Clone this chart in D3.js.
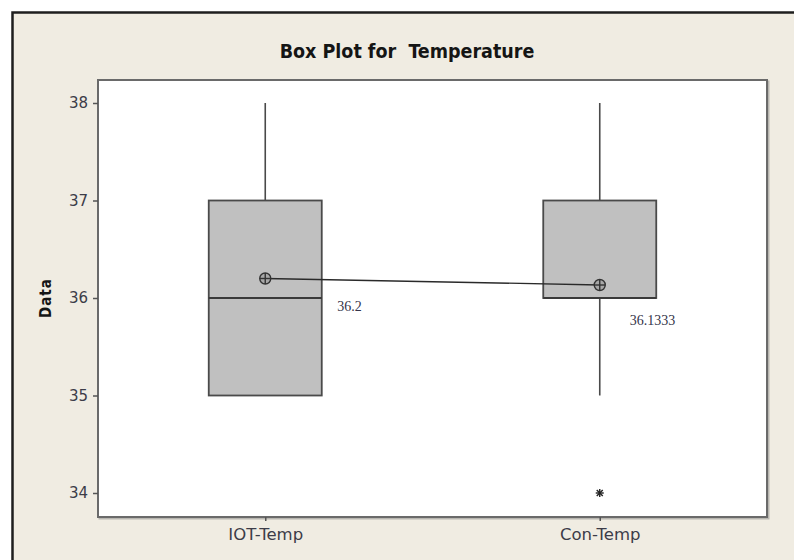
<!DOCTYPE html>
<html>
<head>
<meta charset="utf-8">
<script src="https://cdn.jsdelivr.net/npm/d3@7"></script>
<style>
  html, body { margin: 0; padding: 0; background: #ffffff; }
  svg { display: block; }
</style>
</head>
<body>
<svg id="chart" width="794" height="560"></svg>
<script>
// ---- data ----
const categories = ["IOT-Temp", "Con-Temp"];
const whiskerLow  = [35, 35];
const q1          = [35, 36];
const median      = [36, 36];
const q3          = [37, 37];
const whiskerHigh = [38, 38];
const means       = [36.2, 36.1333];
const meanLabels  = ["36.2", "36.1333"];
const outliers    = [[], [34]];
const yTicks      = [34, 35, 36, 37, 38];
const titleText   = "Box Plot for  Temperature";
const yAxisTitle  = "Data";

// ---- layout ----
const W = 794, H = 560;
const plot = { left: 98, top: 80, right: 767, bottom: 517 };
const boxW = 113;
const labelOffsets = [[72, 32], [30, 40]];

const svg = d3.select("#chart");

// outer frame
svg.append("rect")
  .attr("x", 12.5).attr("y", 12.5)
  .attr("width", W + 20).attr("height", H + 20)
  .attr("fill", "#f0ece2")
  .attr("stroke", "#1e1e1e").attr("stroke-width", 2.5);

// plot area shadow + box
svg.append("rect")
  .attr("x", plot.left + 1.5).attr("y", plot.top + 1.5)
  .attr("width", plot.right - plot.left).attr("height", plot.bottom - plot.top)
  .attr("fill", "none").attr("stroke", "#b8b6b0").attr("stroke-width", 2);
svg.append("rect")
  .attr("x", plot.left).attr("y", plot.top)
  .attr("width", plot.right - plot.left).attr("height", plot.bottom - plot.top)
  .attr("fill", "#ffffff").attr("stroke", "#6a6a6a").attr("stroke-width", 2);

const x = d3.scalePoint().domain(categories).range([plot.left, plot.right]).padding(0.5);
const y = d3.scaleLinear().domain([34, 38]).range([493, 103]);

// y axis
const yAxis = svg.append("g")
  .attr("transform", `translate(${plot.left},0)`)
  .call(d3.axisLeft(y).tickValues(yTicks).tickSize(5).tickPadding(5).tickFormat(d3.format("d")));
yAxis.select(".domain").remove();
yAxis.selectAll(".tick line").attr("stroke", "#555").attr("stroke-width", 1.5);
yAxis.selectAll(".tick text")
  .attr("fill", "#3c3c48")
  .style("font-family", "'DejaVu Sans', sans-serif")
  .style("font-size", "15px");

// x axis
const xAxis = svg.append("g")
  .attr("transform", `translate(0,${plot.bottom})`)
  .call(d3.axisBottom(x).tickSize(4).tickPadding(7));
xAxis.select(".domain").remove();
xAxis.selectAll(".tick line").attr("stroke", "#555").attr("stroke-width", 1.5);
xAxis.selectAll(".tick text")
  .attr("fill", "#3c3c48")
  .style("font-family", "'DejaVu Sans', sans-serif")
  .style("font-size", "16.5px");

// boxes
const data = categories.map((c, i) => ({
  c, lo: whiskerLow[i], q1: q1[i], med: median[i], q3: q3[i], hi: whiskerHigh[i],
  mean: means[i], label: meanLabels[i], out: outliers[i], i
}));

const g = svg.append("g");
const stroke = "#4a4a4a";

data.forEach(d => {
  const cx = x(d.c);
  if (d.hi > d.q3) {
    g.append("line").attr("x1", cx).attr("x2", cx)
      .attr("y1", y(d.q3)).attr("y2", y(d.hi))
      .attr("stroke", stroke).attr("stroke-width", 1.6);
  }
  if (d.lo < d.q1) {
    g.append("line").attr("x1", cx).attr("x2", cx)
      .attr("y1", y(d.q1)).attr("y2", y(d.lo))
      .attr("stroke", stroke).attr("stroke-width", 1.6);
  }
  g.append("rect")
    .attr("x", cx - boxW / 2).attr("y", y(d.q3))
    .attr("width", boxW).attr("height", y(d.q1) - y(d.q3))
    .attr("fill", "#c0c0c0").attr("stroke", stroke).attr("stroke-width", 1.8);
  g.append("line")
    .attr("x1", cx - boxW / 2).attr("x2", cx + boxW / 2)
    .attr("y1", y(d.med)).attr("y2", y(d.med))
    .attr("stroke", "#3a3a3a").attr("stroke-width", 2);
  d.out.forEach(v => {
    const oy = y(v), s = 4;
    const a = g.append("g").attr("stroke", "#222").attr("stroke-width", 1.4);
    a.append("line").attr("x1", cx - s).attr("x2", cx + s).attr("y1", oy).attr("y2", oy);
    a.append("line").attr("x1", cx).attr("x2", cx).attr("y1", oy - s).attr("y2", oy + s);
    a.append("line").attr("x1", cx - s * 0.75).attr("x2", cx + s * 0.75).attr("y1", oy - s * 0.75).attr("y2", oy + s * 0.75);
    a.append("line").attr("x1", cx - s * 0.75).attr("x2", cx + s * 0.75).attr("y1", oy + s * 0.75).attr("y2", oy - s * 0.75);
  });
});

// mean connect line
const line = d3.line().x(d => x(d.c)).y(d => y(d.mean));
g.append("path").datum(data).attr("d", line)
  .attr("fill", "none").attr("stroke", "#2a2a2a").attr("stroke-width", 1.3);

// mean symbols + labels
data.forEach(d => {
  const cx = x(d.c), cy = y(d.mean), r = 5.5;
  const m = g.append("g").attr("stroke", "#333").attr("stroke-width", 1.4);
  m.append("circle").attr("cx", cx).attr("cy", cy).attr("r", r).attr("fill", "#a8a8a8");
  m.append("line").attr("x1", cx - r).attr("x2", cx + r).attr("y1", cy).attr("y2", cy);
  m.append("line").attr("x1", cx).attr("x2", cx).attr("y1", cy - r).attr("y2", cy + r);
  g.append("text")
    .attr("x", cx + labelOffsets[d.i][0]).attr("y", cy + labelOffsets[d.i][1])
    .attr("fill", "#34344a")
    .style("font-family", "'Liberation Serif', serif")
    .style("font-size", "14px")
    .text(d.label);
});

// title
svg.append("text")
  .attr("x", 407).attr("y", 58)
  .attr("text-anchor", "middle")
  .attr("fill", "#151515")
  .style("font-family", "'DejaVu Sans Condensed', 'DejaVu Sans', sans-serif")
  .style("font-weight", "bold")
  .style("font-size", "19.5px")
  .style("white-space", "pre")
  .text(titleText);

// y axis title
svg.append("text")
  .attr("transform", "translate(51,298) rotate(-90)")
  .attr("text-anchor", "middle")
  .attr("fill", "#151515")
  .style("font-family", "'DejaVu Sans Condensed', 'DejaVu Sans', sans-serif")
  .style("font-weight", "bold")
  .style("font-size", "15px")
  .style("letter-spacing", "1px")
  .text(yAxisTitle);
</script>
</body>
</html>
